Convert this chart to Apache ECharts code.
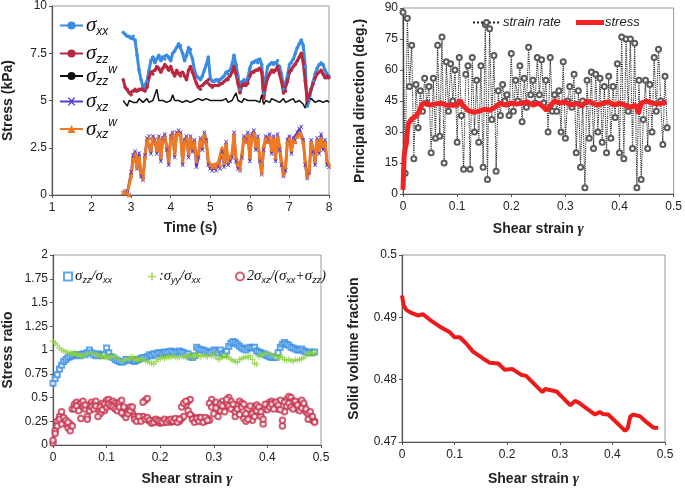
<!DOCTYPE html>
<html>
<head>
<meta charset="utf-8">
<script src="https://cdn.jsdelivr.net/npm/echarts@6/dist/echarts.min.js"></script>
<style>
  html, body { margin: 0; padding: 0; background: #fff; }
  #chart { width: 685px; height: 488px; }
</style>
</head>
<body>
<div id="chart"></div>
<script>
// ---- panel (a): stress vs time ----
const time1 = [
  2.80,2.85,2.90,2.95,3.00,3.05,3.10,3.15,3.20,3.25,
  3.30,3.35,3.40,3.45,3.50,3.55,3.60,3.65,3.70,3.75,
  3.80,3.85,3.90,3.95,4.00,4.05,4.10,4.15,4.20,4.25,
  4.30,4.35,4.40,4.45,4.50,4.55,4.60,4.65,4.70,4.75,
  4.80,4.85,4.90,4.95,5.00,5.05,5.10,5.15,5.20,5.25,
  5.30,5.35,5.40,5.45,5.50,5.55,5.60,5.65,5.70,5.75,
  5.80,5.85,5.90,5.95,6.00,6.05,6.10,6.15,6.20,6.25,
  6.30,6.35,6.40,6.45,6.50,6.55,6.60,6.65,6.70,6.75,
  6.80,6.85,6.90,6.95,7.00,7.05,7.10,7.15,7.20,7.25,
  7.30,7.35,7.40,7.45,7.50,7.55,7.60,7.65,7.70,7.75,
  7.80,7.85,7.90,7.95,8.00
];
const sigmaXX = [
  8.6,8.5,8.4,8.4,8.3,8.4,8.2,7.4,6.6,6.1,
  5.7,5.6,6.0,6.6,7.1,7.3,7.0,7.2,7.4,7.1,
  7.3,7.2,7.4,7.3,7.1,7.5,7.6,7.8,8.0,7.9,
  7.5,7.1,7.4,7.8,7.7,7.2,6.6,6.3,6.2,6.1,
  6.3,6.6,6.9,7.3,6.2,6.0,6.0,6.1,6.0,6.1,
  6.2,6.3,6.5,6.4,6.6,6.9,7.4,6.9,6.3,5.6,
  6.0,6.1,6.0,6.2,6.7,7.0,7.0,7.1,7.0,7.2,
  6.9,5.4,6.2,6.8,6.9,7.0,6.9,7.0,7.1,6.8,
  6.4,5.6,5.5,6.3,6.9,7.0,7.2,7.5,7.8,8.0,
  8.2,7.9,6.8,4.7,5.0,5.6,6.0,6.4,6.7,6.9,
  7.0,6.9,6.6,6.4,6.3
];
const sigmaZZ = [
  6.1,5.7,5.6,5.4,5.3,5.5,5.6,5.5,5.6,5.6,
  5.6,5.5,5.7,6.2,6.5,6.4,6.6,6.8,6.7,6.5,
  6.7,6.9,6.8,6.6,6.8,6.5,6.3,6.6,6.4,6.3,
  6.5,6.3,6.1,6.6,6.8,6.5,6.2,5.9,5.7,5.6,
  5.8,5.9,6.0,6.1,5.8,5.7,5.8,5.8,5.8,5.9,
  5.9,6.0,6.1,6.1,6.3,6.5,6.8,6.4,5.9,5.4,
  5.8,5.9,5.8,5.9,6.3,6.5,6.5,6.6,6.6,6.7,
  6.5,5.1,5.8,6.2,6.4,6.6,6.5,6.6,6.8,6.4,
  6.0,5.4,5.5,6.0,6.5,6.6,6.8,6.9,7.1,7.3,
  7.5,7.0,6.0,5.0,5.3,5.6,5.9,6.2,6.4,6.5,
  6.6,6.4,6.2,6.3,6.2
];
const sigmaZZw = [
  5.0,4.9,4.7,5.0,5.1,4.9,5.0,4.9,5.1,5.0,
  4.9,5.0,5.1,4.9,5.0,5.0,5.1,5.6,5.0,4.9,
  5.0,5.1,4.9,5.0,5.0,5.3,5.0,4.9,5.0,5.1,
  4.9,5.0,5.0,5.1,4.9,5.0,5.0,4.9,5.1,5.0,
  5.0,4.9,5.1,5.0,5.0,4.9,5.0,5.1,5.0,4.9,
  5.0,5.0,5.1,4.9,5.0,5.0,4.9,5.4,5.0,5.0,
  4.9,5.1,5.0,5.0,4.9,5.0,5.1,5.0,5.0,4.9,
  5.3,4.8,5.0,5.0,4.9,5.1,5.0,5.0,5.0,4.9,
  5.0,5.1,4.9,5.0,5.0,5.0,5.1,4.9,5.0,5.0,
  5.1,4.8,4.6,5.0,4.9,5.1,5.0,4.9,5.0,5.0,
  5.1,4.9,5.0,5.0,4.9
];
const sigmaXZ = [
  0.1,0.2,0.1,0.0,1.2,2.1,2.3,1.4,2.2,1.0,
  0.8,2.1,3.0,3.1,2.2,3.1,2.9,2.2,3.1,1.8,
  3.0,3.2,2.4,1.6,3.1,3.3,2.0,3.3,3.4,3.3,
  1.6,2.9,3.1,2.0,3.1,2.3,2.9,1.5,2.0,3.0,
  2.4,3.3,2.9,1.6,1.4,1.3,1.4,1.3,1.5,1.4,
  2.3,1.5,2.8,1.6,1.8,2.0,3.3,1.8,1.4,1.3,
  2.0,3.1,2.9,3.3,1.8,3.2,3.4,2.4,3.1,1.8,
  1.1,2.4,3.1,2.9,3.2,2.2,3.1,1.8,3.2,2.4,
  1.6,1.0,1.3,2.9,3.1,2.2,3.0,2.9,3.3,3.5,
  3.6,2.9,1.6,0.9,1.2,2.9,2.3,1.6,3.0,2.2,
  3.2,2.4,2.9,1.6,1.5
];
const sigmaXZw = [
  0.15,0.2,0.1,0.0,1.0,1.8,2.2,1.5,2.0,1.2,
  0.9,2.0,2.9,3.0,2.4,3.0,2.8,2.4,3.0,2.0,
  2.9,3.1,2.6,1.8,3.0,3.2,2.2,3.2,3.3,3.2,
  1.8,2.8,3.0,2.2,3.0,2.5,2.8,1.8,2.2,2.9,
  2.6,3.2,2.8,1.8,1.6,1.5,1.6,1.5,1.7,1.6,
  2.5,1.7,2.7,1.8,2.0,2.2,3.2,2.0,1.6,1.4,
  2.2,3.0,2.8,3.2,2.0,3.1,3.3,2.6,3.0,2.0,
  1.2,2.6,3.0,2.8,3.1,2.4,3.0,2.0,3.1,2.6,
  1.8,1.1,1.5,2.8,3.0,2.4,2.9,2.8,3.1,3.3,
  3.2,2.8,1.8,1.0,1.3,2.8,2.5,1.8,2.9,2.4,
  3.0,2.6,2.8,1.8,1.6
];

// ---- shear strain grid shared by panels (b) and (c) ----
const gamma = [
  0.000,0.004,0.008,0.012,0.016,0.020,0.024,0.028,0.032,0.036,
  0.040,0.044,0.048,0.052,0.056,0.060,0.064,0.068,0.072,0.076,
  0.080,0.084,0.088,0.092,0.096,0.100,0.104,0.108,0.112,0.116,
  0.120,0.124,0.128,0.132,0.136,0.140,0.144,0.148,0.152,0.156,
  0.160,0.164,0.168,0.172,0.176,0.180,0.184,0.188,0.192,0.196,
  0.200,0.204,0.208,0.212,0.216,0.220,0.224,0.228,0.232,0.236,
  0.240,0.244,0.248,0.252,0.256,0.260,0.264,0.268,0.272,0.276,
  0.280,0.284,0.288,0.292,0.296,0.300,0.304,0.308,0.312,0.316,
  0.320,0.324,0.328,0.332,0.336,0.340,0.344,0.348,0.352,0.356,
  0.360,0.364,0.368,0.372,0.376,0.380,0.384,0.388,0.392,0.396,
  0.400,0.404,0.408,0.412,0.416,0.420,0.424,0.428,0.432,0.436,
  0.440,0.444,0.448,0.452,0.456,0.460,0.464,0.468,0.472,0.476,
  0.480,0.484,0.488
];

// ---- panel (b): principal directions ----
const strainRateDir = [
  88,10,85,52,72,17,53,32,50,40,
  56,44,52,20,56,27,72,28,76,15,
  64,40,63,45,60,25,66,38,12,58,
  62,12,66,30,55,25,62,13,82,7,
  80,36,67,11,50,38,53,45,48,38,
  68,40,55,45,62,35,56,42,71,48,
  55,44,66,48,65,44,55,30,66,40,
  48,40,50,30,64,27,45,52,42,58,
  20,50,13,45,3,55,27,59,22,58,
  30,56,25,52,20,57,27,52,37,63,
  20,76,17,75,40,75,22,73,3,55,
  7,36,55,22,53,30,66,40,70,45,
  24,57,32
];
const stressGamma = [0,0.002,0.004,0.006,0.008,0.010,0.015,0.020,0.025,0.030,0.035,0.040,
  0.050,0.060,0.070,0.080,0.090,0.100,0.105,0.110,0.120,0.130,0.140,0.150,0.160,0.170,
  0.180,0.190,0.200,0.210,0.220,0.230,0.240,0.250,0.260,0.265,0.270,0.280,0.290,0.300,
  0.310,0.320,0.330,0.340,0.350,0.360,0.370,0.380,0.390,0.400,0.410,0.420,0.430,0.435,
  0.440,0.450,0.460,0.470,0.480,0.487];
const stressDir = [2,18,22,24,30,34,36,37,38,40,43.5,44,
  43,43.5,44,43,43,43,45.5,43,40.5,39.5,40,41,40.5,42,
  44,43,44,43.5,44,44.5,43,44,42,40.5,42,45,44,44.5,
  43,44,42.5,45,44,43,44,44.5,43,44,43,42,43,39,
  44,45,44,43.5,44,44.5];

// ---- panel (c): stress ratios ----
const ratioZZ = [
  0.65,0.70,0.74,0.80,0.84,0.88,0.90,0.92,0.93,0.94,
  0.95,0.95,0.94,0.95,0.96,0.95,0.97,1.00,0.97,0.95,
  0.94,0.96,0.95,0.94,0.95,1.02,0.97,0.93,0.92,0.90,
  0.89,0.88,0.87,0.88,0.90,0.90,0.89,0.90,0.88,0.89,
  0.90,0.91,0.92,0.92,0.93,0.95,0.94,0.96,0.95,0.97,
  0.97,0.96,0.98,0.97,0.98,0.99,0.98,0.97,0.98,0.99,
  0.98,0.97,0.95,0.96,0.93,0.92,0.94,1.03,1.01,1.00,
  1.00,0.99,0.98,0.97,0.98,1.00,0.99,0.97,1.00,0.96,
  0.95,0.99,1.04,1.07,1.09,1.08,1.06,1.04,1.02,1.01,
  1.00,1.02,1.03,1.02,1.03,0.99,0.98,0.97,0.96,0.95,
  0.94,0.93,0.92,0.93,0.92,0.97,1.03,1.06,1.08,1.06,
  1.05,1.03,1.02,1.01,1.00,1.00,1.01,0.99,0.98,0.97,
  0.98,0.97,0.98
];
const ratioYY = [
  1.09,1.07,1.05,1.02,1.00,0.99,0.98,0.97,0.97,0.96,
  0.97,0.96,0.95,0.94,0.93,0.95,0.96,0.97,0.96,0.97,
  0.95,0.94,0.93,0.94,0.93,0.92,0.93,0.92,0.94,0.93,
  0.92,0.90,0.88,0.89,0.91,0.90,0.92,0.93,0.91,0.90,
  0.89,0.90,0.91,0.89,0.88,0.87,0.86,0.85,0.88,0.90,
  0.91,0.92,0.91,0.92,0.93,0.92,0.94,0.93,0.92,0.93,
  0.94,0.93,0.92,0.94,0.95,0.93,0.94,0.95,0.94,0.93,
  0.95,0.94,0.93,0.95,0.94,0.96,0.92,0.90,0.91,0.93,
  0.94,0.93,0.92,0.90,0.89,0.88,0.87,0.90,0.91,0.92,
  0.93,0.92,0.94,0.90,0.86,0.85,0.93,0.95,0.94,0.96,
  0.97,0.96,0.95,0.94,0.93,0.92,0.93,0.92,0.90,0.89,
  0.90,0.89,0.88,0.90,0.89,0.90,0.91,0.92,0.95,0.96,
  0.97,0.96,0.97
];
const ratioXZa = [
  0.02,0.15,0.25,0.30,0.35,0.25,0.22,0.18,0.22,0.38,
  0.43,0.45,0.42,0.44,0.40,0.38,0.30,0.42,0.45,0.43,
  0.46,0.38,0.33,0.44,0.36,0.47,0.48,0.45,0.46,0.44,
  0.42,0.45,0.47,0.32,0.38,0.36,0.40,0.34,0.30,0.28,
  0.26,0.28,0.30,0.47,0.49,0.25,0.24,0.26,0.25,0.24,
  0.23,0.25,0.24,0.26,0.25,0.24,0.26,0.25,0.27,0.25,
  0.28,0.30,0.42,0.46,0.48,0.30,0.28,0.27,0.29,0.26,
  0.27,0.25,0.28,0.26,0.48,0.42,0.45,0.38,0.36,0.46,
  0.40,0.44,0.50,0.46,0.38,0.30,0.42,0.46,0.44,0.28,
  0.25,0.38,0.32,0.26,0.40,0.42,0.36,0.30,0.22,0.38,
  0.42,0.45,0.46,0.44,0.40,0.38,0.47,0.20,0.35,0.48,
  0.51,0.50,0.46,0.42,0.38,0.45,0.47,0.41,0.35,0.33,
  0.28,0.26,0.25
];
const ratioXZb = [
  0.05,0.12,0.20,0.27,0.22,0.29,0.26,0.24,0.15,0.20,
  0.38,0.41,0.36,0.28,0.46,0.42,0.27,0.36,0.40,0.38,
  0.41,0.30,0.40,0.37,0.43,0.40,0.43,0.41,0.40,0.38,
  0.36,0.40,0.34,0.40,0.29,0.33,0.36,0.40,0.27,0.25,
  0.30,0.25,0.45,0.27,0.29,0.26,0.23,0.24,0.27,0.26,
  0.25,0.24,0.27,0.24,0.26,0.27,0.25,0.28,0.24,0.27,
  0.40,0.44,0.46,0.36,0.32,0.27,0.24,0.28,0.25,0.29,
  0.24,0.29,0.26,0.44,0.40,0.33,0.39,0.30,0.43,0.41,
  0.35,0.48,0.41,0.38,0.43,0.35,0.38,0.32,0.40,0.43,
  0.33,0.27,0.41,0.33,0.30,0.36,0.40,0.35,0.27,0.43,
  0.37,0.40,0.43,0.38,0.45,0.42,0.37,0.26,0.45,0.41,
  0.44,0.40,0.38,0.46,0.42,0.36,0.39,0.44,0.38,0.27,
  0.35,0.30,0.24
];

// ---- panel (d): solid volume fraction ----
const phiGamma = [0,0.003,0.008,0.018,0.03,0.04,0.053,0.072,0.091,0.1,
  0.11,0.122,0.135,0.154,0.167,0.183,0.195,0.21,0.226,0.236,
  0.255,0.267,0.272,0.294,0.307,0.32,0.329,0.338,0.354,0.367,
  0.376,0.382,0.392,0.402,0.418,0.424,0.429,0.434,0.44,0.453,
  0.466,0.478,0.487];
const phi = [0.4935,0.492,0.4912,0.4907,0.4903,0.4905,0.4896,0.4885,0.4876,0.4868,
  0.4868,0.4858,0.4845,0.4834,0.4827,0.4826,0.4816,0.4817,0.4808,0.4806,
  0.479,0.478,0.4785,0.4781,0.477,0.4759,0.4766,0.4762,0.4752,0.4744,
  0.4748,0.4745,0.4744,0.4736,0.4723,0.4718,0.4722,0.4741,0.4744,0.4741,
  0.4731,0.4723,0.4723];

const zip = (xs, ys) => xs.map((x, i) => [x, ys[i]]);

const FONT = 'Liberation Sans';
const tickLabel = { fontSize: 12, color: '#222', fontFamily: FONT };
const nameStyle = { fontSize: 14, fontWeight: 'bold', color: '#222', fontFamily: FONT,
  rich: { g: { fontSize: 15, fontStyle: 'italic', fontWeight: 'bold', fontFamily: 'Liberation Serif', color: '#222' } } };
const axisLine = { show: true, lineStyle: { color: '#555', width: 1.2 } };
const axisTick = { show: true, length: 3, lineStyle: { color: '#555' } };

function xAx(gi, min, max, interval, name, gap) {
  return { gridIndex: gi, type: 'value', min: min, max: max, interval: interval,
    name: name, nameLocation: 'middle', nameGap: gap, nameTextStyle: nameStyle,
    axisLine: axisLine, axisTick: axisTick, axisLabel: Object.assign({ margin: 7 }, tickLabel),
    splitLine: { show: false } };
}
function yAx(gi, min, max, interval, name, gap) {
  return { gridIndex: gi, type: 'value', min: min, max: max, interval: interval,
    name: name, nameLocation: 'middle', nameGap: gap, nameTextStyle: nameStyle,
    axisLine: axisLine, axisTick: axisTick, axisLabel: Object.assign({ margin: 5 }, tickLabel),
    splitLine: { show: false } };
}

// legend rich styles
const richBig = {
  s: { fontSize: 21, fontStyle: 'italic', fontFamily: 'Liberation Serif', color: '#111', lineHeight: 24 },
  b: { fontSize: 12, fontStyle: 'italic', fontFamily: FONT, color: '#111', verticalAlign: 'bottom', lineHeight: 13 },
  p: { fontSize: 12, fontStyle: 'italic', fontFamily: FONT, color: '#111', verticalAlign: 'top', lineHeight: 13 }
};
const richSmall = {
  s: { fontSize: 15, fontStyle: 'italic', fontFamily: 'Liberation Serif', color: '#111', lineHeight: 17 },
  n: { fontSize: 14, fontStyle: 'italic', fontFamily: 'Liberation Serif', color: '#111', lineHeight: 17 },
  b: { fontSize: 9, fontStyle: 'italic', fontFamily: FONT, color: '#111', verticalAlign: 'bottom', lineHeight: 9 }
};

const p1Names = ['σxx', 'σzz', 'σzz w', 'σxz', 'σxz w'];
const p1Labels = ['{s|σ}{b|xx}', '{s|σ}{b|zz}', '{s|σ}{b|zz}{p|w}', '{s|σ}{b|xz}', '{s|σ}{b|xz}{p|w}'];
const p1LegendTop = [10, 38, 59, 86, 112];

const p3Names = ['σzz/σxx', 'σyy/σxx', '2σxz/(σxx+σzz)'];
const p3Labels = ['{s|σ}{b|zz}{s|/σ}{b|xx}', '{n|:}{s|σ}{b|yy}{s|/σ}{b|xx}',
  '{n|2}{s|σ}{b|xz}{n|/(}{s|σ}{b|xx}{n|+}{s|σ}{b|zz}{n|)}'];
const p3LegendLeft = [58, 143, 230];

const legends = [];
p1Names.forEach((n, i) => legends.push({
  data: [n], left: 54, top: p1LegendTop[i], orient: 'vertical',
  itemWidth: 23, itemHeight: 10, itemGap: 0,
  formatter: () => p1Labels[i], textStyle: { rich: richBig, padding: [0, 0, 0, -2] }
}));
p3Names.forEach((n, i) => legends.push({
  data: [n], left: p3LegendLeft[i], top: 264, itemWidth: 8, itemHeight: 8,
  formatter: () => p3Labels[i], textStyle: { rich: richSmall, padding: [0, 0, 0, -2] }
}));
legends.push({ data: ['strain rate'], left: 467, top: 11, itemWidth: 27, itemHeight: 6,
  textStyle: { fontSize: 13, fontStyle: 'italic', color: '#222', fontFamily: FONT, padding: [0, 0, 0, -2] } });
legends.push({ data: [{ name: 'stress', icon: 'rect' }], left: 571, top: 11, itemWidth: 28, itemHeight: 5,
  textStyle: { fontSize: 13, fontStyle: 'italic', color: '#222', fontFamily: FONT, padding: [0, 0, 0, -4] } });

const cross = 'path://M0,0L2,0L5,3L8,0L10,0L6,5L10,10L8,10L5,7L2,10L0,10L4,5Z';
const plus = 'path://M4,0H6V4H10V6H6V10H4V6H0V4H4Z';

function lineSeries(name, gi, data, color, width, symbol, size) {
  return { name: name, type: 'line', xAxisIndex: gi, yAxisIndex: gi, data: data,
    symbol: symbol, symbolSize: size, showSymbol: symbol !== 'none', showAllSymbol: true,
    lineStyle: { color: color, width: width }, itemStyle: { color: color } };
}

const stressSeries = lineSeries('stress', 1, zip(stressGamma, stressDir), '#f02424', 5, 'none', 0);
stressSeries.z = 5;

const option = {
  animation: false,
  backgroundColor: '#fff',
  legend: legends,
  grid: [
    { left: 51, top: 6, width: 278, height: 189, show: true, borderColor: '#999', borderWidth: 1 },
    { left: 403, top: 8, width: 272, height: 186, show: true, borderColor: '#999', borderWidth: 1 },
    { left: 51, top: 255, width: 270, height: 193, show: true, borderColor: '#999', borderWidth: 1 },
    { left: 402, top: 255, width: 263, height: 193, show: true, borderColor: '#999', borderWidth: 1 }
  ],
  xAxis: [
    xAx(0, 1, 8, 1, 'Time (s)', 26),
    xAx(1, 0, 0.5, 0.1, 'Shear strain {g|γ}', 28),
    xAx(2, 0, 0.5, 0.1, 'Shear strain {g|γ}', 27),
    xAx(3, 0, 0.5, 0.1, 'Shear strain {g|γ}', 30)
  ],
  yAxis: [
    yAx(0, 0, 10, 2.5, 'Stress (kPa)', 37),
    yAx(1, 0, 90, 15, 'Principal direction (deg.)', 36),
    yAx(2, 0, 2, 0.25, 'Stress ratio', 38),
    yAx(3, 0.47, 0.5, 0.01, 'Solid volume fraction', 41)
  ],
  series: [
    lineSeries('σxx', 0, zip(time1, sigmaXX), '#3a8be2', 3, 'circle', 3.5),
    lineSeries('σzz', 0, zip(time1, sigmaZZ), '#b8283f', 3, 'circle', 3.5),
    lineSeries('σzz w', 0, zip(time1, sigmaZZw), '#111', 1.5, 'none', 0),
    lineSeries('σxz', 0, zip(time1, sigmaXZ), '#5a3fc8', 2.5, cross, 4.5),
    lineSeries('σxz w', 0, zip(time1, sigmaXZw), '#ef7a22', 3, 'triangle', 4.5),
    { name: 'strain rate', type: 'line', xAxisIndex: 1, yAxisIndex: 1, data: zip(gamma, strainRateDir),
      symbol: 'emptyCircle', symbolSize: 5, showSymbol: true, showAllSymbol: true,
      lineStyle: { color: '#222', width: 1.1, type: 'dotted' },
      itemStyle: { color: '#5a5a5a', borderColor: '#5a5a5a', borderWidth: 1 } },
    stressSeries,
    { name: 'σzz/σxx', type: 'scatter', xAxisIndex: 2, yAxisIndex: 2, data: zip(gamma, ratioZZ),
      symbol: 'emptyRect', symbolSize: 5, itemStyle: { color: '#3a8fe5', borderWidth: 1.2 } },
    { name: 'σyy/σxx', type: 'scatter', xAxisIndex: 2, yAxisIndex: 2, data: zip(gamma, ratioYY),
      symbol: plus, symbolSize: 6, itemStyle: { color: '#8bd23c' } },
    { name: '2σxz/(σxx+σzz)', type: 'scatter', xAxisIndex: 2, yAxisIndex: 2,
      data: zip(gamma, ratioXZa).concat(zip(gamma, ratioXZb)),
      symbol: 'emptyCircle', symbolSize: 5.5, itemStyle: { color: '#c8334f', borderWidth: 1.2 } },
    lineSeries('phi', 3, zip(phiGamma, phi), '#ee1a1a', 4, 'none', 0)
  ]
};

const chart = echarts.init(document.getElementById('chart'), null, { renderer: 'canvas' });
chart.setOption(option);
</script>
</body>
</html>
